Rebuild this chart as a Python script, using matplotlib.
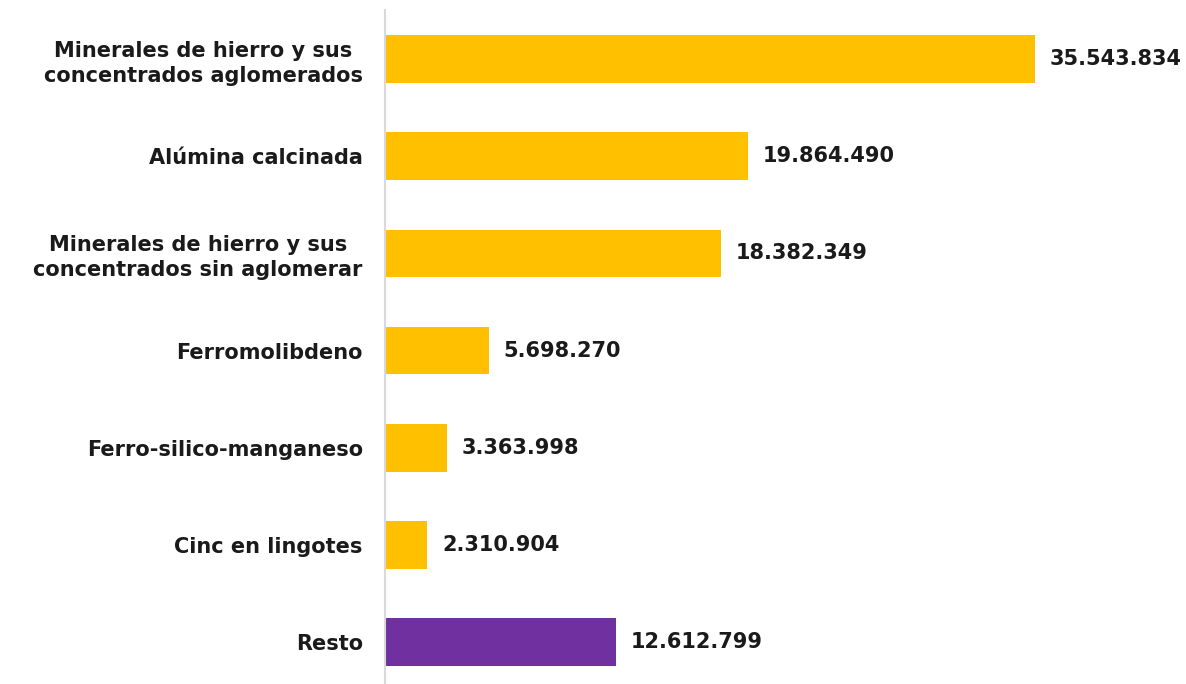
import matplotlib.pyplot as plt

# -------------------------
# Data
# -------------------------
categories = [
    "Minerales de hierro y sus\nconcentrados aglomerados",
    "Alúmina calcinada",
    "Minerales de hierro y sus\nconcentrados sin aglomerar",
    "Ferromolibdeno",
    "Ferro-silico-manganeso",
    "Cinc en lingotes",
    "Resto",
]
values = [35543834, 19864490, 18382349, 5698270, 3363998, 2310904, 12612799]
labels = ["35.543.834", "19.864.490", "18.382.349", "5.698.270",
          "3.363.998", "2.310.904", "12.612.799"]
colors = ["#FFC000"] * 6 + ["#7030A0"]

plt.rcParams["font.family"] = ["DejaVu Sans"]

# -------------------------
# Plot
# -------------------------
fig = plt.figure(figsize=(11.86, 6.84), dpi=100)
ax = fig.add_axes([385 / 1186, 0, 801 / 1186, 1])

pos = list(range(len(categories)))
ax.barh(pos, values, height=0.49, color=colors)

for p, v, lab in zip(pos, values, labels):
    ax.text(v + 800000, p, lab, va="center", ha="left",
            fontsize=15, fontweight="bold", color="#1a1a1a")

ax.set_xlim(0, 43.8e6)
ax.set_ylim(6.43, -0.607)
ax.set_yticks(pos)
ax.set_yticklabels(categories, fontsize=15, fontweight="bold",
                   color="#1a1a1a", ha="right", multialignment="center",
                   linespacing=1.3)
ax.tick_params(axis="y", length=0, pad=16)
ax.set_xticks([])

for s in ["top", "right", "bottom"]:
    ax.spines[s].set_visible(False)
ax.spines["left"].set_color("#D9D9D9")
ax.spines["left"].set_linewidth(1.5)
ax.spines["left"].set_bounds(6.43, -0.504)

fig.savefig("out.png", dpi=100)
